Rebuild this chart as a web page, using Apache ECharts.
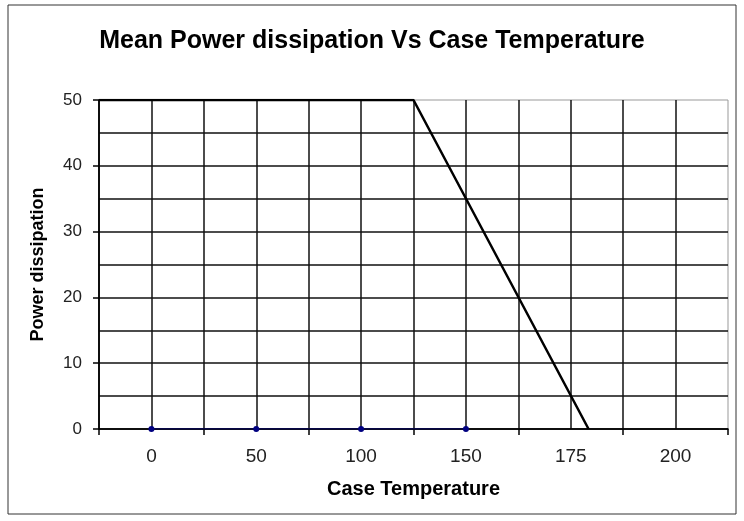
<!DOCTYPE html>
<html>
<head>
<meta charset="utf-8">
<script src="https://cdn.jsdelivr.net/npm/echarts@6/dist/echarts.min.js"></script>
<style>
  html, body { margin: 0; padding: 0; background: #fff; }
  #chart { width: 744px; height: 521px; }
</style>
</head>
<body>
<div id="chart"></div>
<script>
// x axis categories (case temperature labels)
const categories = ['0', '50', '100', '150', '175', '200'];
// blue series: power values at the first four categories
const blueValues = [0, 0, 0, 0, null, null];
// black derating line, x given as category index position
const derateX = [-0.5, 2.5, 4.17];
const derateY = [50, 50, 0];

const font = '"Liberation Sans", Arial, sans-serif';

const chart = echarts.init(document.getElementById('chart'));

chart.setOption({
    animation: false,
    title: {
        text: 'Mean Power dissipation Vs Case Temperature',
        left: 'center',
        top: 24,
        textStyle: { fontFamily: font, fontWeight: 'bold', fontSize: 25, color: '#000' }
    },
    graphic: [{
        type: 'rect',
        shape: { x: 8, y: 5, width: 728, height: 509 },
        style: { fill: 'none', stroke: '#333', lineWidth: 1 }
    }],
    grid: {
        left: 99, right: 16, top: 100, bottom: 92,
        show: true, borderColor: '#999', borderWidth: 1
    },
    xAxis: [{
        type: 'category',
        data: categories,
        boundaryGap: true,
        position: 'bottom',
        name: 'Case Temperature',
        nameLocation: 'middle',
        nameGap: 50,
        nameTextStyle: { fontFamily: font, fontWeight: 'bold', fontSize: 20, color: '#000' },
        axisLine: { lineStyle: { color: '#000', width: 1.5 } },
        axisTick: { show: true, length: 6, lineStyle: { color: '#000', width: 1.5 } },
        axisLabel: { fontFamily: font, fontSize: 19, color: '#222', margin: 18 },
        splitLine: { show: false }
    }, {
        type: 'value',
        min: -0.5,
        max: 5.5,
        interval: 0.5,
        position: 'bottom',
        axisLine: { show: false },
        axisTick: { show: false },
        axisLabel: { show: false },
        splitLine: { show: true, showMaxLine: false, lineStyle: { color: '#111', width: 1.5 } }
    }],
    yAxis: {
        type: 'value',
        min: 0,
        max: 50,
        interval: 10,
        name: 'Power dissipation',
        nameLocation: 'middle',
        nameGap: 52,
        nameTextStyle: { fontFamily: font, fontWeight: 'bold', fontSize: 18, color: '#000' },
        axisLine: { show: true, onZero: false, lineStyle: { color: '#000', width: 1.5 } },
        axisTick: { show: true, length: 6, lineStyle: { color: '#000', width: 1.5 } },
        axisLabel: { fontFamily: font, fontSize: 17, color: '#222', margin: 17 },
        splitLine: { show: true, showMaxLine: false, lineStyle: { color: '#111', width: 1.5 } },
        minorTick: { show: false, splitNumber: 2 },
        minorSplitLine: { show: true, lineStyle: { color: '#111', width: 1.5 } }
    },
    series: [{
        type: 'line',
        xAxisIndex: 0,
        data: blueValues,
        symbol: 'circle',
        symbolSize: 6,
        itemStyle: { color: '#000080' },
        lineStyle: { color: '#000080', width: 1 }
    }, {
        type: 'line',
        xAxisIndex: 1,
        data: derateX.map((x, i) => [x, derateY[i]]),
        showSymbol: false,
        lineStyle: { color: '#000', width: 2.5 }
    }]
});
</script>
</body>
</html>
